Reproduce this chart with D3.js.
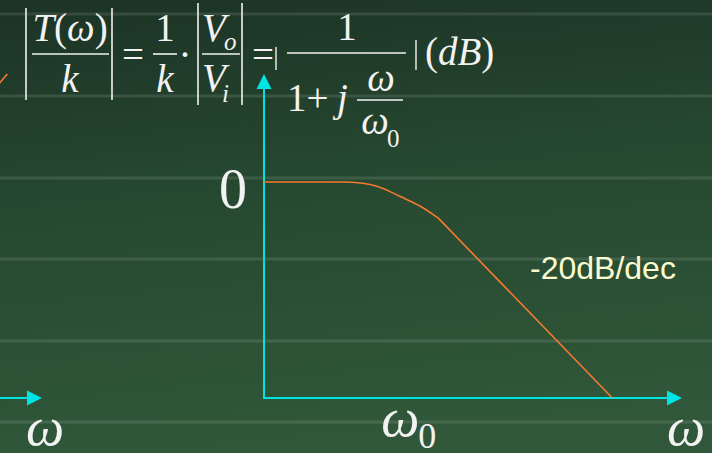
<!DOCTYPE html>
<html>
<head>
<meta charset="utf-8">
<script src="https://cdn.jsdelivr.net/npm/d3@7"></script>
<style>
  html, body { margin: 0; padding: 0; background: #1f3a29; }
  svg { display: block; }
</style>
</head>
<body>
<svg id="chart" width="712" height="453"></svg>
<script>
// Normalised frequency ω/ω0 and gain in dB for the first-order low-pass response
const ratio = [0.0464, 0.267, 0.388, 0.603, 0.935, 1.455, 2.16, 100];
const gainDb = [0, 0, -0.2, -1.0, -2.7, -4.5, -6.7, -40];
// Index where the smooth knee hands over to the -20dB/dec asymptote
const kneeEnd = 6;

// Tail of the neighbouring (high-pass) plot on the left
const leftRatio = [150, 216];
const leftGainDb = [16.4, 20];

// Axis limits
const xLimits = [0.0464, 464];
const yLimits = [-40, 20];

// Tick labels
const yTickValues = [0];
const yTickLabels = ["0"];
const xTickValues = [1];
const slopeLabel = "-20dB/dec";

const W = 712, H = 453;
const svg = d3.select("#chart");

// ---- background: dark green slide with faint horizontal streaks ----
const defs = svg.append("defs");
const bg = defs.append("linearGradient").attr("id", "bg")
  .attr("x1", 0).attr("y1", 0).attr("x2", 0.15).attr("y2", 1);
bg.append("stop").attr("offset", "0%").attr("stop-color", "#1c3325");
bg.append("stop").attr("offset", "45%").attr("stop-color", "#264830");
bg.append("stop").attr("offset", "100%").attr("stop-color", "#305739");
svg.append("rect").attr("width", W).attr("height", H).attr("fill", "url(#bg)");

const streakY = [14, 96, 178, 259, 341, 422];
svg.append("g").selectAll("rect").data(streakY).join("rect")
  .attr("x", 0).attr("width", W)
  .attr("y", d => d - 1.5).attr("height", 3)
  .attr("fill", "#ffffff").attr("opacity", 0.11);

// ---- scales ----
const x = d3.scaleLog().domain(xLimits).range([264, 682]);
const y = d3.scaleLinear().domain(yLimits).range([398, 74]);
const leftShift = -640; // left plot uses the same scales, shifted off-page

const axisColor = "#00e3e3";
const arrow = (g, tipX, tipY, dir) => {
  const L = 15, Hw = 7.5;
  const pts = dir === "right"
    ? [[tipX, tipY], [tipX - L, tipY - Hw], [tipX - L, tipY + Hw]]
    : [[tipX, tipY], [tipX - Hw, tipY + L], [tipX + Hw, tipY + L]];
  g.append("polygon").attr("points", pts.map(p => p.join(",")).join(" "))
    .attr("fill", axisColor);
};

// ---- main axes ----
const axes = svg.append("g");
axes.append("line")
  .attr("x1", x(xLimits[0])).attr("x2", x(xLimits[1]) - 10)
  .attr("y1", y(yLimits[0])).attr("y2", y(yLimits[0]))
  .attr("stroke", axisColor).attr("stroke-width", 2);
arrow(axes, x(xLimits[1]), y(yLimits[0]), "right");
axes.append("line")
  .attr("x1", x(xLimits[0])).attr("x2", x(xLimits[0]))
  .attr("y1", y(yLimits[0]) + 1).attr("y2", y(yLimits[1]) + 10)
  .attr("stroke", axisColor).attr("stroke-width", 2);
arrow(axes, x(xLimits[0]), y(yLimits[1]), "up");

// ---- left plot fragment ----
const leftG = svg.append("g").attr("transform", `translate(${leftShift},0)`);
leftG.append("line")
  .attr("x1", x(xLimits[0])).attr("x2", x(xLimits[1]) - 10)
  .attr("y1", y(yLimits[0])).attr("y2", y(yLimits[0]))
  .attr("stroke", axisColor).attr("stroke-width", 2);
arrow(leftG, x(xLimits[1]), y(yLimits[0]), "right");
leftG.append("path")
  .datum(leftRatio.map((r, i) => [r, leftGainDb[i]]))
  .attr("d", d3.line().x(d => x(d[0])).y(d => y(d[1])))
  .attr("fill", "none").attr("stroke", "#f47a2e").attr("stroke-width", 1.6);

// ---- response curve: smooth knee then straight asymptote ----
const pts = ratio.map((r, i) => [r, gainDb[i]]);
const knee = d3.line().x(d => x(d[0])).y(d => y(d[1])).curve(d3.curveMonotoneX);
const tail = d3.line().x(d => x(d[0])).y(d => y(d[1]));
svg.append("path")
  .attr("d", knee(pts.slice(0, kneeEnd + 1)) + tail(pts.slice(kneeEnd)).replace(/^M/, "L"))
  .attr("fill", "none").attr("stroke", "#f47a2e").attr("stroke-width", 1.6)
  .attr("stroke-linejoin", "round");

// ---- tick labels ----
const serif = "'Liberation Serif', 'DejaVu Serif', serif";
const ink = "#f2f2f2";
svg.append("g").selectAll("text").data(yTickValues).join("text")
  .attr("x", x(xLimits[0]) - 17).attr("y", d => y(d) + 26)
  .attr("text-anchor", "end").attr("font-family", serif).attr("font-size", 56)
  .attr("fill", ink).text((d, i) => yTickLabels[i]);

const xt = svg.append("g").selectAll("g").data(xTickValues).join("g")
  .attr("transform", d => `translate(${x(d)},0)`);
xt.append("text").attr("x", -3).attr("y", 436).attr("text-anchor", "middle")
  .attr("font-family", serif).attr("font-style", "italic").attr("font-size", 54)
  .attr("fill", ink).text("ω");
xt.append("text").attr("x", 15).attr("y", 448)
  .attr("font-family", serif).attr("font-size", 36)
  .attr("fill", ink).text("0");

// axis names (ω) under both arrow heads
[x(xLimits[1]) + 4, x(xLimits[1]) + leftShift + 3].forEach(cx => {
  svg.append("text").attr("x", cx).attr("y", 445).attr("text-anchor", "middle")
    .attr("font-family", serif).attr("font-style", "italic").attr("font-size", 54)
    .attr("fill", ink).text("ω");
});

// slope annotation
svg.append("text").attr("x", 530).attr("y", 279)
  .attr("font-family", "'Liberation Sans', Arial, sans-serif").attr("font-size", 32)
  .attr("fill", "#fbfbcf").text(slopeLabel);

// ---- transfer-function formula ----
const fs = 39, sub = 25;
const f = svg.append("g").attr("font-family", serif).attr("font-size", fs).attr("fill", ink);
const rule = (x1, y1, x2, y2, w = 1.6) => f.append("line")
  .attr("x1", x1).attr("y1", y1).attr("x2", x2).attr("y2", y2)
  .attr("stroke", ink).attr("stroke-width", w);
const txt = (tx, ty, parts, anchor = "start", size = fs) => {
  const t = f.append("text").attr("x", tx).attr("y", ty)
    .attr("text-anchor", anchor).attr("font-size", size);
  parts.forEach(([s, it]) => t.append("tspan")
    .attr("font-style", it ? "italic" : "normal").text(s));
  return t;
};

// |T(ω)/k|
rule(26, 8, 26, 100);
txt(70, 41, [["T", 1], ["(", 0], ["ω", 1], [")", 0]], "middle");
rule(32, 54, 109, 54);
txt(70, 92, [["k", 1]], "middle");
rule(112, 8, 112, 100);
txt(133, 68, [["=", 0]], "middle");
// 1/k ·
txt(165, 41, [["1", 0]], "middle");
rule(153, 54, 177, 54);
txt(165, 92, [["k", 1]], "middle");
txt(185, 68, [["·", 0]], "middle");
// |Vo/Vi|
rule(198, 3, 198, 105);
txt(202, 41, [["V", 1]]);
txt(224, 50, [["o", 1]], "start", sub);
rule(202, 54, 240, 54);
txt(202, 91, [["V", 1]]);
txt(222, 102, [["i", 1]], "start", sub);
rule(242, 3, 242, 105);
txt(263, 68, [["=", 0]], "middle");
// |1 / (1 + j ω/ω0)| (dB)
rule(276, 47, 276, 70, 1.4);
txt(347, 40, [["1", 0]], "middle");
rule(287, 53, 406, 53);
txt(287, 111, [["1", 0], ["+", 0]]);
txt(337, 111, [["j", 1]]);
txt(381, 91, [["ω", 1]], "middle");
rule(357, 100, 403, 100, 1.4);
txt(375, 134, [["ω", 1]], "middle");
txt(387, 147, [["0", 0]], "start", sub);
rule(416, 40, 416, 70, 1.4);
txt(425, 65, [["(", 0], ["dB", 1], [")", 0]]);
</script>
</body>
</html>
